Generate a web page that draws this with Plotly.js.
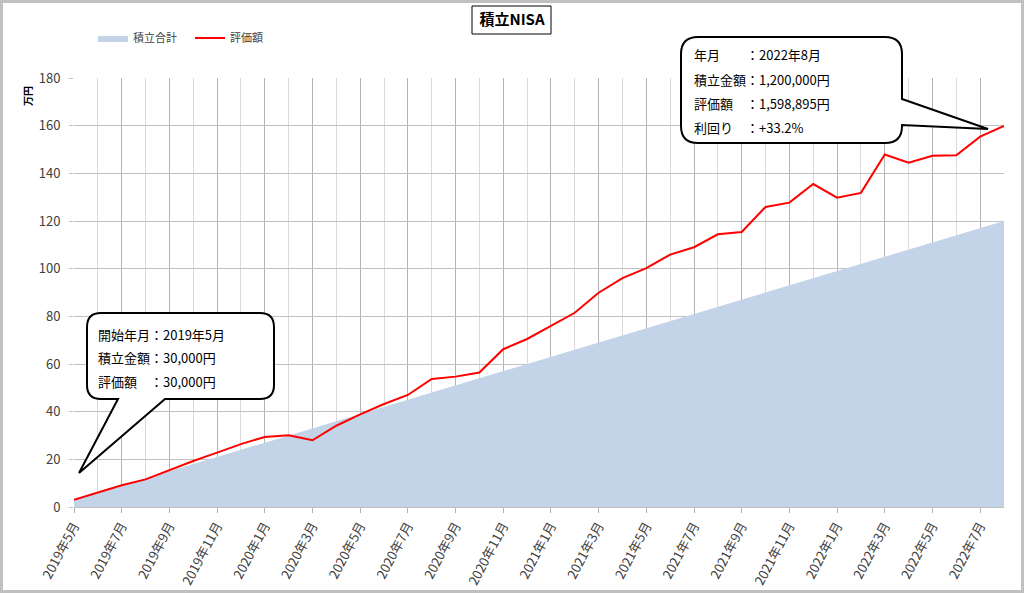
<!DOCTYPE html>
<html>
<head>
<meta charset="utf-8">
<script src="https://cdn.plot.ly/plotly-3.0.1.min.js"></script>
<style>html,body{margin:0;padding:0;background:#fff;}#chart{width:1024px;height:593px;}</style>
</head>
<body>
<div id="chart"></div>
<script>
const months = ["2019年5月","2019年6月","2019年7月","2019年8月","2019年9月","2019年10月","2019年11月","2019年12月",
"2020年1月","2020年2月","2020年3月","2020年4月","2020年5月","2020年6月","2020年7月","2020年8月","2020年9月","2020年10月","2020年11月","2020年12月",
"2021年1月","2021年2月","2021年3月","2021年4月","2021年5月","2021年6月","2021年7月","2021年8月","2021年9月","2021年10月","2021年11月","2021年12月",
"2022年1月","2022年2月","2022年3月","2022年4月","2022年5月","2022年6月","2022年7月","2022年8月"];
const accumulated = [3,6,9,12,15,18,21,24,27,30,33,36,39,42,45,48,51,54,57,60,63,66,69,72,75,78,81,84,87,90,93,96,99,102,105,108,111,114,117,120];
const valuation = [3,6,9.1,11.6,15.5,19.3,22.8,26.4,29.4,30.1,28.0,34.1,38.9,43.2,47.0,53.7,54.7,56.4,66.2,70.5,76.0,81.5,89.9,96.0,100.2,105.9,109.0,114.4,115.4,125.9,127.7,135.5,129.8,131.8,147.9,144.5,147.4,147.6,155.4,159.9];
const seriesNames = ["積立合計","評価額"];
const yTitle = "万円";
const chartTitle = "積立NISA";
const startNote = ["開始年月：2019年5月","積立金額：30,000円","評価額　：30,000円"];
const endNote = ["年月　　：2022年8月","積立金額：1,200,000円","評価額　：1,598,895円","利回り　：+33.2%"];

const idx = months.map((m,i)=>i);
const tickIdx = idx.filter(i=>i%2===0);
const tickTxt = tickIdx.map(i=>months[i]);

const W=1024,H=593,L=74,R=1004,T=78,B=507;
const px = x => (x-L)/(R-L);
const py = y => (B-y)/(B-T);
function path(pts){
  return pts.map(p=>{
    const c=p[0]; const a=p.slice(1); const out=[];
    for(let k=0;k<a.length;k+=2){out.push(px(a[k]).toFixed(5)+','+py(a[k+1]).toFixed(5));}
    return c+' '+out.join(' ');
  }).join(' ')+' Z';
}
function bubble(l,r,t,b,rad,wedge){
  const p=[['M',l+rad,t],['L',r-rad,t],['Q',r,t,r,t+rad]];
  if(wedge.side==='right'){p.push(['L',r,wedge.a],['L',wedge.tx,wedge.ty],['L',r,wedge.b]);}
  p.push(['L',r,b-rad],['Q',r,b,r-rad,b]);
  if(wedge.side==='bottom'){p.push(['L',wedge.a,b],['L',wedge.tx,wedge.ty],['L',wedge.b,b]);}
  p.push(['L',l+rad,b],['Q',l,b,l,b-rad],['L',l,t+rad],['Q',l,t,l+rad,t]);
  return path(p);
}

const font = "Noto Sans CJK JP, sans-serif";
const traces = [
  {x:idx,y:accumulated,name:seriesNames[0],type:'scatter',mode:'lines',fill:'tozeroy',
   fillcolor:'#c4d4e8',line:{width:0,color:'#c4d4e8'},hoverinfo:'x+y'},
  {x:idx,y:valuation,name:seriesNames[1],type:'scatter',mode:'lines',
   line:{width:2,color:'#ff0000'}}
];

const anns = [];
startNote.forEach((t,i)=>anns.push({xref:'paper',yref:'paper',x:px(96),y:py(334+i*23.7),xanchor:'left',yanchor:'middle',
  text:t,showarrow:false,font:{family:font,size:13,color:'#000'}}));
endNote.forEach((t,i)=>anns.push({xref:'paper',yref:'paper',x:px(692),y:py(55+i*24),xanchor:'left',yanchor:'middle',
  text:t,showarrow:false,font:{family:font,size:13,color:'#000'}}));
anns.push({xref:'paper',yref:'paper',x:px(27),y:py(96),xanchor:'center',yanchor:'middle',text:yTitle,textangle:-90,
  showarrow:false,font:{family:font,size:10,color:'#000',weight:'bold'}});

const shapes = [
  {type:'rect',xref:'paper',yref:'paper',x0:px(1.5),x1:px(1022.5),y0:py(591.5),y1:py(1.5),line:{color:'#c0c0c0',width:3},layer:'below'},
  {type:'rect',xref:'paper',yref:'paper',x0:px(472),x1:px(551),y0:py(34),y1:py(6),line:{color:'#000',width:1}},
  {type:'path',xref:'paper',yref:'paper',layer:'above',fillcolor:'#fff',line:{color:'#000',width:2},
   path:bubble(87,274,313,399,14,{side:'bottom',a:165,b:118,tx:79,ty:473})},
  {type:'path',xref:'paper',yref:'paper',layer:'above',fillcolor:'#fff',line:{color:'#000',width:2},
   path:bubble(681,902,37,143,17,{side:'right',a:99,b:125,tx:988,ty:129})}
];

const layout = {
  width:W,height:H,
  margin:{l:L,r:W-R,t:T,b:H-B,pad:0},
  paper_bgcolor:'#fff',plot_bgcolor:'#fff',
  font:{family:font,color:'#595959'},
  title:{text:chartTitle,x:0.5,xref:'container',y:1-20/H,yref:'container',xanchor:'center',yanchor:'middle',
    font:{family:font,size:15,color:'#000',weight:'bold'}},
  showlegend:true,
  legend:{orientation:'h',x:px(93),y:py(38),xanchor:'left',yanchor:'middle',font:{family:font,size:11,color:'#404040'},
    bgcolor:'rgba(0,0,0,0)',entrywidth:52,entrywidthmode:'pixels',itemwidth:30},
  xaxis:{range:[0,idx.length-1],tickmode:'array',tickvals:tickIdx,ticktext:tickTxt,tickangle:-62,
    showgrid:true,gridcolor:'#b4b4b4',gridwidth:1,ticks:'outside',ticklen:5,tickcolor:'#b4b4b4',
    showline:true,linecolor:'#bfbfbf',zeroline:false,tickfont:{family:font,size:13,color:'#404040'},
    minor:{tickmode:'linear',tick0:0,dtick:1,showgrid:true,gridcolor:'#dadada',ticks:''},fixedrange:true},
  yaxis:{range:[0,180],dtick:20,tick0:0,showgrid:true,gridcolor:'#c0c0c0',gridwidth:1,ticks:'outside',ticklen:4,
    tickcolor:'#c0c0c0',showline:false,zeroline:false,tickfont:{family:font,size:13,color:'#404040'},ticklabelstandoff:6,fixedrange:true},
  shapes:shapes,annotations:anns
};
Plotly.newPlot('chart',traces,layout,{displayModeBar:false,staticPlot:true});
</script>
</body>
</html>
